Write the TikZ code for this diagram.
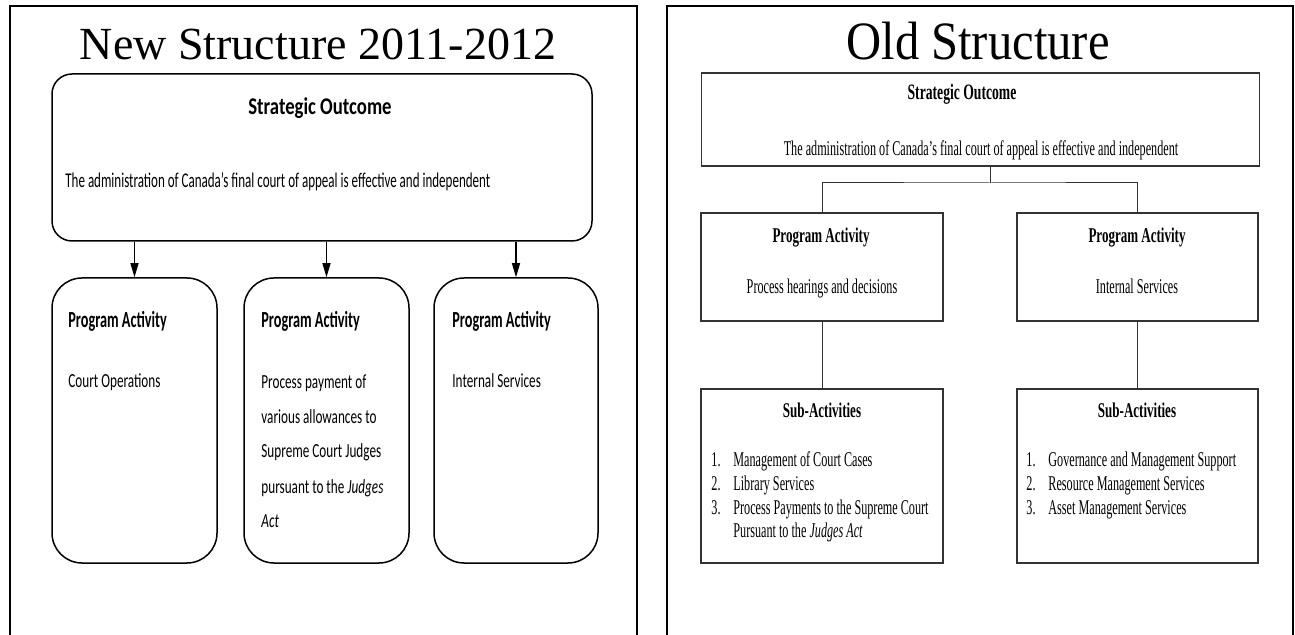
\documentclass[tikz,border=0pt]{standalone}
\usepackage{fontspec}
\setmainfont{Liberation Serif}
\newfontfamily\calfont[FakeStretch=0.66]{Carlito}
\newfontfamily\calnar[FakeStretch=0.62]{Carlito}
\newfontfamily\calwide[FakeStretch=0.78]{Carlito}
\newfontfamily\tnfont[FakeStretch=0.58]{Liberation Serif}
\newfontfamily\thfont[FakeStretch=0.62]{Liberation Serif}
\newfontfamily\titlefont[FakeStretch=0.9]{Liberation Serif}
\usetikzlibrary{arrows.meta}
\newcommand\listnum[1]{\makebox[11pt][l]{#1}}

\begin{document}
\begin{tikzpicture}[x=0.5pt,y=-0.5pt,
	panel/.style={line width=1pt},
	roundbox/.style={draw, line width=0.75pt, inner sep=0pt},
	flatbox/.style={draw=black!80, line width=0.6pt, inner sep=0pt},
	txt/.style={inner sep=0pt},
	newhead/.style={txt, anchor=base west, font={\calnar\bfseries\fontsize{11.5}{14}\selectfont}},
	newtext/.style={txt, anchor=base west, align=left, font={\calfont\fontsize{10}{17.5}\selectfont}},
	oldhead/.style={txt, anchor=base, font={\thfont\bfseries\fontsize{10.5}{12}\selectfont}},
	oldtext/.style={txt, anchor=base, font={\tnfont\fontsize{10.5}{12}\selectfont}},
	oldlist/.style={txt, anchor=base west, align=left, font={\tnfont\fontsize{10.5}{11.85}\selectfont}},
	link/.style={draw=black!80, line width=0.5pt},
	push/.style={line width=0.6pt, -{Triangle[length=7pt,width=4pt]}}]
	\useasboundingbox (0,0) rectangle (1295,635);
	% the two slides
	\draw [panel] (10,635) -- (10,6) -- (637,6) -- (637,635);
	\draw [panel] (667,635) -- (667,6) -- (1293,6) -- (1293,635);
	% new structure
	\node [txt, anchor=base, font=\fontsize{23}{27}\selectfont] (newtitle) at (318,60) {New Structure 2011-2012};
	\node [roundbox, rounded corners=10pt, minimum width=270pt, minimum height=83.5pt] (so1) at (322,157.5) {};
	\node [roundbox, rounded corners=15pt, minimum width=82.5pt, minimum height=142.5pt] (pa1) at (134.5,420.5) {};
	\node [roundbox, rounded corners=15pt, minimum width=82.5pt, minimum height=142.5pt] (pa2) at (326.5,420.5) {};
	\node [roundbox, rounded corners=15pt, minimum width=82pt, minimum height=142.5pt] (pa3) at (516,420.5) {};
	\node [txt, anchor=base, font={\calwide\bfseries\fontsize{12}{14}\selectfont}] (so1head) at (320,115) {Strategic Outcome};
	\node [txt, anchor=base west, font={\calnar\fontsize{10.5}{12}\selectfont}] (so1text) at (65,188) {The administration of Canada’s final court of appeal is effective and independent};
	\node [newhead] (pa1head) at (68,328) {Program Activity};
	\node [newhead] (pa2head) at (261,328) {Program Activity};
	\node [newhead] (pa3head) at (452,328) {Program Activity};
	\node [newtext] (pa1text) at (68,388) {Court Operations};
	% base of a multi-line node is its last line
	\node [newtext] (pa2text) at (261,528) {Process payment of\\various allowances to\\Supreme Court Judges\\pursuant to the \textit{Judges}\\\textit{Act}};
	\node [newtext] (pa3text) at (452,388) {Internal Services};
	\foreach \b in {pa1,pa2,pa3}
		\draw [push] (so1.south -| \b.north) -- (\b.north);
	% old structure
	\node [txt, anchor=base, font={\titlefont\fontsize{27}{31}\selectfont}] (oldtitle) at (978,60) {Old Structure};
	\node [flatbox, minimum width=279pt, minimum height=46.5pt] (so2) at (980.5,119.5) {};
	\node [flatbox, minimum width=121pt, minimum height=54pt] (pb1) at (822,267) {};
	\node [flatbox, minimum width=120.5pt, minimum height=54pt] (pb2) at (1137.5,267) {};
	\node [flatbox, minimum width=121pt, minimum height=87pt] (sub1) at (822,476) {};
	\node [flatbox, minimum width=120.5pt, minimum height=87pt] (sub2) at (1137.5,476) {};
	\node [oldhead, font={\thfont\bfseries\fontsize{11}{13}\selectfont}] (so2head) at (962,100) {Strategic Outcome};
	\node [oldtext] (so2text) at (981,156) {The administration of Canada’s final court of appeal is effective and independent};
	\node [oldhead] (pb1head) at (821,243) {Program Activity};
	\node [oldhead] (pb2head) at (1137,243) {Program Activity};
	\node [oldtext] (pb1text) at (822,294) {Process hearings and decisions};
	\node [oldtext] (pb2text) at (1137,294) {Internal Services};
	\node [oldhead] (sub1head) at (822,418) {Sub-Activities};
	\node [oldhead] (sub2head) at (1137,418) {Sub-Activities};
	\node [oldlist] (sub1list) at (711,538) {\listnum{1.}Management of Court Cases\\\listnum{2.}Library Services\\\listnum{3.}Process Payments to the Supreme Court\\\listnum{}Pursuant to the \textit{Judges Act}};
	\node [oldlist] (sub2list) at (1026,514.4) {\listnum{1.}Governance and Management Support\\\listnum{2.}Resource Management Services\\\listnum{3.}Asset Management Services};
	\coordinate (fork) at (990,183);
	\draw [link] (so2.south -| fork) -- (fork);
	\draw [link] (pb1.north) |- (fork) -| (pb2.north);
	\draw [link] (pb1.south) -- (sub1.north);
	\draw [link] (pb2.south) -- (sub2.north);
\end{tikzpicture}
\end{document}
